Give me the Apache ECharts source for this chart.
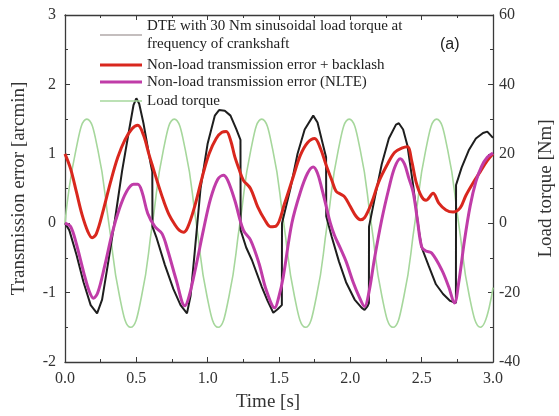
<!DOCTYPE html>
<html>
<head>
<meta charset="utf-8">
<script src="https://cdn.jsdelivr.net/npm/echarts@6/dist/echarts.min.js"></script>
<style>html,body{margin:0;padding:0;background:#fff;}#c{width:559px;height:416px;}</style>
</head>
<body>
<div id="c"></div>
<script>
// ---- data ----
const xTicks = ['0.0','0.5','1.0','1.5','2.0','2.5','3.0'];
const leftTicks = ['-2','-1','0','1','2','3'];
const rightTicks = ['-40','-20','0','20','40','60'];

const nameDTE = 'DTE with 30 Nm sinusoidal load torque at\nfrequency of crankshaft';
const nameRed = 'Non-load transmission error + backlash';
const nameNLTE = 'Non-load transmission error (NLTE)';
const nameTorque = 'Load torque';

// DTE (black) [s], [arcmin]
const dteTime = [0.00,0.03,0.08,0.13,0.18,0.225,0.26,0.30,0.35,0.40,0.45,0.48,0.50,0.52,0.55,0.60,0.612,0.613,0.64,0.70,0.76,0.81,0.855,
  0.88,0.91,0.95,1.00,1.05,1.08,1.12,1.16,1.20,1.23,1.231,1.27,1.31,1.38,1.42,1.46,1.49,1.52,1.521,1.53,1.58,1.63,1.68,1.74,1.77,1.80,1.83,1.831,
  1.87,1.92,1.97,2.03,2.08,2.10,2.12,2.13,2.131,2.17,2.22,2.27,2.32,2.34,2.37,2.40,2.44,2.48,2.50,2.55,2.60,2.65,2.70,2.74,2.741,
  2.78,2.83,2.88,2.93,2.96,3.00];
const dteValue = [0.00,-0.10,-0.45,-0.85,-1.18,-1.30,-1.10,-0.60,0.05,0.75,1.35,1.70,1.80,1.72,1.44,0.86,0.74,-0.05,-0.20,-0.60,-0.95,-1.18,-1.30,
  -1.05,-0.40,0.50,1.15,1.55,1.63,1.62,1.55,1.36,1.20,-0.10,-0.35,-0.53,-0.92,-1.12,-1.29,-1.24,-1.18,0.00,0.02,0.50,1.00,1.35,1.55,1.45,1.20,0.95,0.10,
  -0.20,-0.55,-0.85,-1.10,-1.22,-1.25,-1.20,-1.15,-0.05,0.35,0.85,1.22,1.42,1.44,1.35,1.12,0.55,-0.10,-0.35,-0.62,-0.88,-1.02,-1.12,-1.15,0.55,
  0.80,1.05,1.22,1.30,1.32,1.23];

// Non-load transmission error + backlash (red)
const redTime = [0.00,0.04,0.08,0.12,0.16,0.19,0.22,0.27,0.32,0.37,0.42,0.47,0.51,0.55,0.59,0.62,0.65,0.69,0.73,0.77,0.80,0.83,0.86,
  0.91,0.96,1.01,1.06,1.10,1.13,1.16,1.19,1.22,1.25,1.30,1.35,1.40,1.44,1.48,1.54,1.60,1.65,1.70,1.75,1.79,1.83,1.87,1.90,1.93,1.96,
  2.00,2.04,2.07,2.10,2.15,2.20,2.26,2.31,2.36,2.40,2.43,2.46,2.50,2.53,2.58,2.62,2.67,2.72,2.77,2.81,2.86,2.91,2.96,3.00];
const redValue = [1.00,0.78,0.45,0.12,-0.12,-0.21,-0.15,0.20,0.60,0.95,1.20,1.36,1.41,1.27,0.98,0.78,0.58,0.33,0.12,-0.02,-0.10,-0.13,-0.06,
  0.25,0.65,1.00,1.22,1.31,1.32,1.20,0.96,0.78,0.62,0.50,0.24,0.05,-0.05,-0.04,0.29,0.67,0.98,1.16,1.22,1.08,0.84,0.62,0.46,0.42,0.38,
  0.24,0.10,0.05,0.08,0.30,0.60,0.85,1.02,1.08,1.10,0.90,0.60,0.38,0.33,0.43,0.29,0.19,0.16,0.22,0.40,0.58,0.74,0.90,1.00];

// Non-load transmission error NLTE (magenta)
const nlteTime = [0.00,0.04,0.08,0.13,0.17,0.20,0.23,0.28,0.33,0.38,0.43,0.48,0.51,0.54,0.58,0.63,0.68,0.72,0.78,0.84,
  0.87,0.92,0.97,1.02,1.07,1.11,1.14,1.19,1.25,1.30,1.36,1.41,1.47,1.50,1.53,1.59,1.65,1.70,1.74,1.77,1.80,1.83,1.86,1.89,1.93,1.97,2.02,2.06,2.10,
  2.13,2.17,2.22,2.27,2.31,2.35,2.38,2.41,2.44,2.47,2.50,2.53,2.57,2.64,2.69,2.73,2.76,2.80,2.84,2.88,2.92,2.96,3.00];
const nlteValue = [0.00,-0.05,-0.30,-0.70,-0.98,-1.08,-1.00,-0.60,-0.15,0.20,0.45,0.56,0.56,0.45,0.14,-0.05,-0.15,-0.39,-0.82,-1.19,
  -1.05,-0.60,-0.10,0.35,0.63,0.69,0.62,0.33,-0.10,-0.24,-0.58,-0.96,-1.22,-1.05,-0.77,0.00,0.45,0.72,0.81,0.72,0.50,0.25,0.00,-0.18,-0.36,-0.55,-0.85,-1.05,-1.20,
  -1.00,-0.50,0.05,0.50,0.80,0.93,0.85,0.65,0.45,0.05,-0.34,-0.40,-0.43,-0.67,-0.92,-1.15,-0.85,-0.25,0.25,0.60,0.82,0.95,1.01];

// Load torque (green) [s], [Nm]
const torqueTime = [0,0.077,0.153,0.230,0.307,0.383,0.460,0.536,0.613,0.690,0.766,0.843,0.920,0.996,1.073,1.149,1.226,1.303,1.379,1.456,
  1.533,1.609,1.686,1.762,1.839,1.916,1.992,2.069,2.146,2.222,2.299,2.375,2.452,2.529,2.605,2.682,2.759,2.835,2.912,3.0];
const torqueValue = [0,21.2,30,21.2,0,-21.2,-30,-21.2,0,21.2,30,21.2,0,-21.2,-30,-21.2,0,21.2,30,21.2,
  0,-21.2,-30,-21.2,0,21.2,30,21.2,0,-21.2,-30,-21.2,0,21.2,30,21.2,0,-21.2,-30,-18.6];

const zip = (a,b) => a.map((t,i) => [t,b[i]]);

const serif = 'Liberation Serif';
const axisColor = '#3a3a3a';
const labelStyle = {fontFamily: serif, fontSize: 16, color: '#333'};
const legendText = {fontFamily: serif, fontSize: 15, color: '#222'};

const chart = echarts.init(document.getElementById('c'), null, {renderer: 'canvas'});
const baseAxis = {
  axisLine: {show: true, onZero: false, lineStyle: {color: axisColor, width: 1.3}},
  axisTick: {show: true, inside: true, length: 5, lineStyle: {color: axisColor, width: 1}},
  minorTick: {show: true, splitNumber: 2, length: 3, lineStyle: {color: axisColor, width: 1}},
  splitLine: {show: false}
};
chart.setOption({
  animation: false,
  backgroundColor: '#fff',
  grid: {left: 65, right: 66, top: 15, bottom: 54, containLabel: false, outerBoundsMode: 'none'},
  xAxis: [
    Object.assign({}, baseAxis, {
      type: 'value', min: 0, max: 3, interval: 0.5, position: 'bottom',
      axisLabel: Object.assign({}, labelStyle, {margin: 9, formatter: v => xTicks[Math.round(v/0.5)]}),
      name: 'Time [s]', nameLocation: 'middle', nameGap: 31,
      nameTextStyle: {fontFamily: serif, fontSize: 19, color: '#333', padding: [0, 22, 0, 0]}
    }),
    Object.assign({}, baseAxis, {
      type: 'value', min: 0, max: 3, interval: 0.5, position: 'top',
      axisLabel: {show: false}
    })
  ],
  yAxis: [
    Object.assign({}, baseAxis, {
      type: 'value', min: -2, max: 3, interval: 1, position: 'left',
      axisLabel: Object.assign({}, labelStyle, {margin: 9, formatter: v => leftTicks[Math.round(v+2)]}),
      name: 'Transmission error [arcmin]', nameLocation: 'middle', nameGap: 36, nameRotate: 90,
      nameTextStyle: {fontFamily: serif, fontSize: 19, color: '#333'}
    }),
    Object.assign({}, baseAxis, {
      type: 'value', min: -40, max: 60, interval: 20, position: 'right',
      axisLabel: Object.assign({}, labelStyle, {margin: 6, formatter: v => rightTicks[Math.round((v+40)/20)]}),
      name: 'Load torque [Nm]', nameLocation: 'middle', nameGap: 44, nameRotate: 90,
      nameTextStyle: {fontFamily: serif, fontSize: 19, color: '#333'}
    })
  ],
  legend: [
    {
      data: [{name: nameDTE, icon: 'rect', itemStyle: {color: '#8a7f7f'}}], left: 95, top: 12, orient: 'vertical',
      itemWidth: 42, itemHeight: 1.2, itemGap: 0,
      textStyle: Object.assign({}, legendText, {lineHeight: 18})
    },
    {
      data: [{name: nameRed, icon: 'rect', itemStyle: {color: '#d9271e'}}, {name: nameNLTE, icon: 'rect', itemStyle: {color: '#c03ca8'}}],
      left: 95, top: 52, orient: 'vertical',
      itemWidth: 42, itemHeight: 3, itemGap: 1,
      textStyle: Object.assign({}, legendText, {lineHeight: 16})
    },
    {
      data: [{name: nameTorque, icon: 'rect', itemStyle: {color: '#a6d79c'}}],
      left: 95, top: 88, orient: 'vertical',
      itemWidth: 42, itemHeight: 1.5, itemGap: 0,
      textStyle: Object.assign({}, legendText, {lineHeight: 16})
    }
  ],
  graphic: [{
    type: 'text', left: 440, top: 37,
    style: {text: '(a)', font: '16px "Liberation Sans"', fill: '#222'}
  }],
  series: [
    {name: nameTorque, type: 'line', yAxisIndex: 1, data: zip(torqueTime, torqueValue), smooth: true, symbol: 'none',
     lineStyle: {color: '#a6d79c', width: 1.6}, itemStyle: {color: '#a6d79c'}},
    {name: nameDTE, type: 'line', data: zip(dteTime, dteValue), smooth: false, symbol: 'none',
     lineStyle: {color: '#1e1e1e', width: 2}, itemStyle: {color: '#555'}},
    {name: nameRed, type: 'line', data: zip(redTime, redValue), smooth: 0.35, symbol: 'none',
     lineStyle: {color: '#d9271e', width: 3}, itemStyle: {color: '#d9271e'}},
    {name: nameNLTE, type: 'line', data: zip(nlteTime, nlteValue), smooth: 0.35, symbol: 'none',
     lineStyle: {color: '#c03ca8', width: 3}, itemStyle: {color: '#c03ca8'}}
  ]
});
</script>
</body>
</html>
